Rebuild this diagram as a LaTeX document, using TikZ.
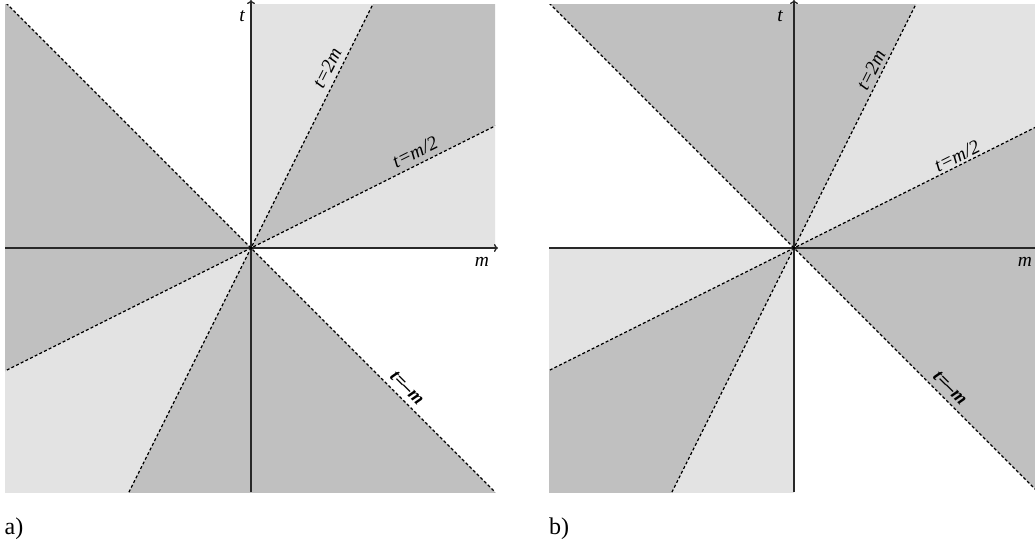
\documentclass[tikz,border=0pt]{standalone}
\usepackage{fontspec}
\setmainfont{Liberation Serif}
\usetikzlibrary{arrows.meta}
\definecolor{dk}{HTML}{C0C0C0}
\definecolor{lt}{HTML}{E3E3E3}
\definecolor{ax}{HTML}{282828}
\begin{document}
\begin{tikzpicture}[x=1pt,y=-1pt,
  dashline/.style={black, line width=1.2pt, dash pattern=on 3pt off 2.2pt},
  axisline/.style={ax, line width=1.3pt},
  arrowax/.style={axisline, -{To[length=4pt,width=8pt]}},
  lbl/.style={font=\fontsize{19.5}{19.5}\selectfont\itshape, inner sep=0pt},
  boldlbl/.style={font=\fontsize{19}{19}\selectfont\bfseries\itshape, inner sep=0pt},
  tag/.style={font=\fontsize{24}{24}\selectfont, inner sep=0pt}]
\useasboundingbox (0,0) rectangle (1035,549);
\coordinate (O1) at (251,248);
\coordinate (O2) at (794,248);
% ---------- panel a ----------
\begin{scope}
\clip (5,4) rectangle (495,492);
\begin{scope}[shift={(251,248)}, yscale=-1]
\fill[lt] (0,0)--(0,300)--(150,300)--cycle;
\fill[dk] (0,0)--(150,300)--(300,300)--(300,150)--cycle;
\fill[lt] (0,0)--(300,150)--(300,0)--cycle;
\fill[dk] (0,0)--(-300,300)--(-300,0)--cycle;
\fill[dk] (0,0)--(-300,0)--(-300,-150)--cycle;
\fill[lt] (0,0)--(-300,-150)--(-300,-300)--(-150,-300)--cycle;
\fill[dk] (0,0)--(-150,-300)--(300,-300)--cycle;
\draw[dashline] (-150,-300)--(150,300);
\draw[dashline] (-300,-150)--(300,150);
\draw[dashline] (-300,300)--(300,-300);
\end{scope}
\end{scope}
\coordinate (a1t0) at (251,492);
\coordinate (a1t1) at (251,0);
\coordinate (a1m0) at (5,248);
\coordinate (a1m1) at (498,248);
\draw[arrowax] (a1t0) -- (a1t1);
\draw[arrowax] (a1m0) -- (a1m1);
\fill (O1) circle (1.8);
\node[lbl, rotate=63.43] (a2m) at (327,68) {t=2m};
\node[lbl, rotate=26.57] (amh) at (415,152) {t=m/2};
\node[boldlbl, rotate=-45] (amm) at (407,388) {t=–m};
\node[lbl] (at) at (242,16) {t};
\node[lbl] (am) at (482,262) {m};
\node[tag] (taga) at (14,529) {a)};
% ---------- panel b ----------
\begin{scope}
\clip (549,4) rectangle (1035,492);
\begin{scope}[shift={(794,248)}, yscale=-1]
\fill[dk] (0,0)--(150,300)--(-300,300)--cycle;
\fill[lt] (0,0)--(300,150)--(300,300)--(150,300)--cycle;
\fill[dk] (0,0)--(300,-300)--(300,150)--cycle;
\fill[lt] (0,0)--(-300,0)--(-300,-150)--cycle;
\fill[dk] (0,0)--(-300,-150)--(-300,-300)--(-150,-300)--cycle;
\fill[lt] (0,0)--(-150,-300)--(0,-300)--cycle;
\draw[dashline] (-150,-300)--(150,300);
\draw[dashline] (-300,-150)--(300,150);
\draw[dashline] (-300,300)--(300,-300);
\end{scope}
\end{scope}
\coordinate (b1t0) at (794,492);
\coordinate (b1t1) at (794,0);
\coordinate (b1m0) at (549,248);
\coordinate (b1m1) at (1035,248);
\draw[arrowax] (b1t0) -- (b1t1);
\draw[axisline] (b1m0) -- (b1m1);
\fill (O2) circle (1.8);
\node[lbl, rotate=63.43] (b2m) at (871,70) {t=2m};
\node[lbl, rotate=26.57] (bmh) at (957,156) {t=m/2};
\node[boldlbl, rotate=-45] (bmm) at (950,388) {t=–m};
\node[lbl] (bt) at (780,16) {t};
\node[lbl] (bm) at (1025,262) {m};
\node[tag] (tagb) at (559,529) {b)};
\end{tikzpicture}
\end{document}
